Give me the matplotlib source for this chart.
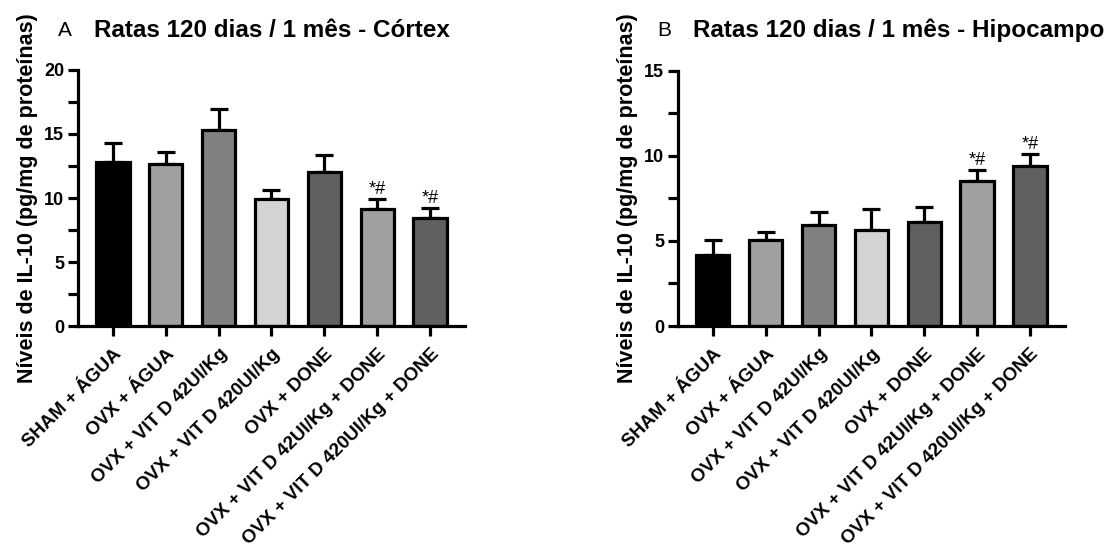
import matplotlib.pyplot as plt
from matplotlib.ticker import MultipleLocator

plt.rcParams['font.family'] = ['Liberation Sans', 'DejaVu Sans']

groups = ['SHAM + ÁGUA', 'OVX + ÁGUA', 'OVX + VIT D 42UI/Kg', 'OVX + VIT D 420UI/Kg',
          'OVX + DONE', 'OVX + VIT D 42UI/Kg + DONE', 'OVX + VIT D 420UI/Kg + DONE']
bar_colors = ['#000000', '#a0a0a0', '#808080', '#d3d3d3', '#606060', '#a0a0a0', '#606060']

cortex_mean = [12.8, 12.65, 15.3, 9.95, 12.05, 9.15, 8.45]
cortex_sem = [1.5, 0.95, 1.65, 0.65, 1.3, 0.8, 0.8]
hipo_mean = [4.2, 5.05, 5.95, 5.65, 6.13, 8.5, 9.42]
hipo_sem = [0.85, 0.45, 0.72, 1.2, 0.85, 0.65, 0.68]
marks = ['', '', '', '', '', '*#', '*#']

fig = plt.figure(figsize=(11.11, 5.52), dpi=100)
ax_a = fig.add_axes([0.0702, 0.4094, 0.3483, 0.4638])
ax_b = fig.add_axes([0.6102, 0.4094, 0.3483, 0.4625])


def draw(ax, means, sems, ymax, letter, title, lx, tx, off):
    x = range(len(groups))
    ax.bar(x, means, width=0.63, color=bar_colors, edgecolor='black',
           linewidth=2.3, zorder=2)
    ax.errorbar(x, means, yerr=[[0] * len(sems), sems], fmt='none',
                ecolor='black', elinewidth=2.3, capsize=6.5, capthick=2.3, zorder=1)
    for i, m in enumerate(marks):
        if m:
            ax.text(i, means[i] + sems[i] + off, m, ha='center', va='bottom',
                    fontsize=13)
    ax.set_xlim(-0.66, len(groups) - 0.34)
    ax.set_ylim(0, ymax)
    ax.yaxis.set_major_locator(MultipleLocator(5))
    ax.yaxis.set_minor_locator(MultipleLocator(2.5))
    ax.set_xticks(list(x))
    ax.set_xticklabels(groups, rotation=45, ha='right', rotation_mode='anchor',
                       fontsize=13.5, fontweight='bold')
    for lab in ax.get_yticklabels():
        lab.set_fontsize(13)
        lab.set_fontweight('bold')
    ax.tick_params(axis='both', which='major', length=7, width=2.3, direction='out')
    ax.tick_params(axis='y', which='minor', length=7, width=2.3)
    ax.tick_params(axis='y', pad=3)
    ax.tick_params(axis='x', pad=7)
    for s in ['top', 'right']:
        ax.spines[s].set_visible(False)
    for s in ['left', 'bottom']:
        ax.spines[s].set_linewidth(2.3)
    ax.set_ylabel('Níveis de IL-10 (pg/mg de proteínas)', fontsize=15.5,
                  fontweight='bold', labelpad=4)
    fig.text(lx, 0.945, letter, fontsize=15, ha='left', va='center')
    fig.text(tx, 0.945, title, fontsize=17.5, fontweight='bold', ha='left', va='center')


draw(ax_a, cortex_mean, cortex_sem, 20, 'A', 'Ratas 120 dias / 1 mês - Córtex',
     0.052, 0.085, 0.05)
draw(ax_b, hipo_mean, hipo_sem, 15, 'B', 'Ratas 120 dias / 1 mês - Hipocampo',
     0.592, 0.624, 0.05)

fig.savefig('out.png', dpi=100)
